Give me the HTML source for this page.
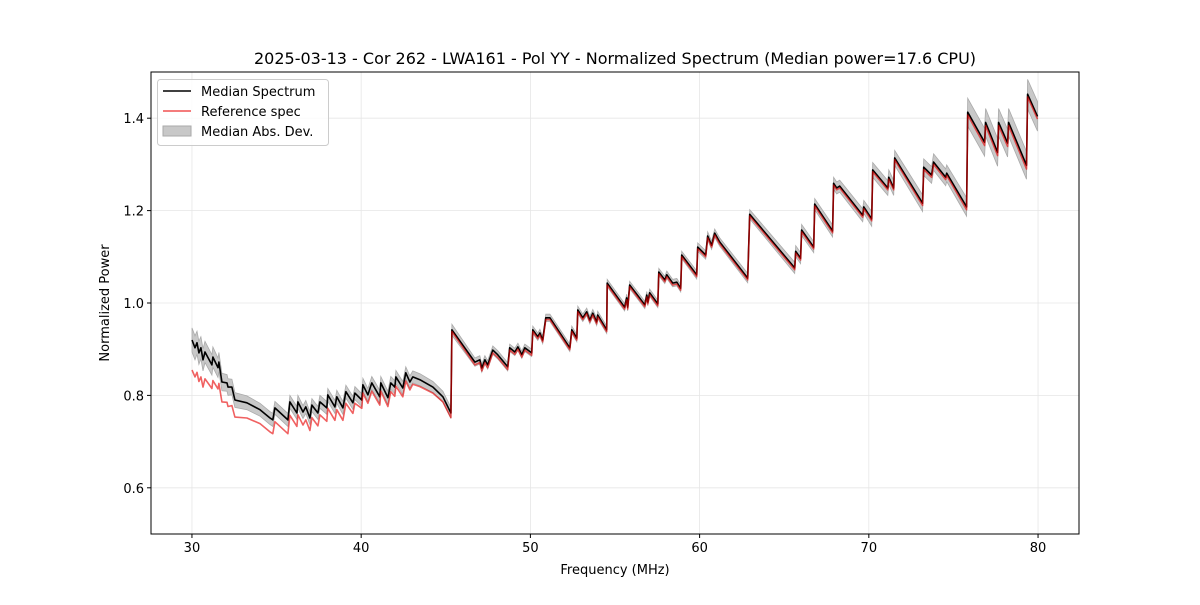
<!DOCTYPE html>
<html><head><meta charset="utf-8"><style>
body{margin:0;background:#fff;}
svg text{font-family:"DejaVu Sans","Liberation Sans",sans-serif;fill:#000;}
</style></head><body>
<svg id="chart" width="1200" height="600" xmlns="http://www.w3.org/2000/svg">
<rect width="1200" height="600" fill="#fff"/>
<text x="615" y="64" text-anchor="middle" font-size="16">2025-03-13 - Cor 262 - LWA161 - Pol YY - Normalized Spectrum (Median power=17.6 CPU)</text>
<g id="grid"></g>
<g id="plot"></g>
<rect x="151" y="72" width="928" height="462" fill="none" stroke="#000" stroke-width="1"/>
<g id="ticks"></g>
<text x="615" y="574" text-anchor="middle" font-size="13">Frequency (MHz)</text>
<text transform="translate(109,303) rotate(-90)" text-anchor="middle" font-size="13">Normalized Power</text>
<g>
<rect x="157.5" y="79.5" width="171" height="66" rx="3" fill="#fff" fill-opacity="0.8" stroke="#ccc"/>
<g><line x1="163" y1="91" x2="191" y2="91" stroke="#000" stroke-width="1.5"/><text x="201" y="96" font-size="13">Median Spectrum</text></g>
<g><line x1="163" y1="111" x2="191" y2="111" stroke="#f05050" stroke-width="1.5"/><text x="201" y="116" font-size="13">Reference spec</text></g>
<g><rect x="163" y="126" width="28" height="10" fill="#c8c8c8" stroke="#aaa"/><text x="201" y="136" font-size="13">Median Abs. Dev.</text></g>
</g>
</svg>
<script>
const freq=[30.00,30.18,30.30,30.41,30.53,30.65,30.77,31.18,31.24,31.54,31.59,31.77,32.07,32.13,32.36,32.54,33.25,34.02,34.61,34.78,34.90,35.67,35.79,36.20,36.26,36.56,36.73,36.97,37.09,37.44,37.56,37.97,38.03,38.45,38.56,38.92,39.10,39.51,39.63,40.04,40.10,40.40,40.63,41.10,41.16,41.58,41.75,41.99,42.05,42.46,42.64,42.88,43.05,43.47,44.24,44.83,45.30,45.36,
46.72,47.01,47.13,47.31,47.48,47.78,48.07,48.66,48.78,49.08,49.26,49.49,49.67,50.08,50.14,50.44,50.56,50.73,50.91,51.15,52.33,52.45,52.74,52.80,53.10,53.33,53.51,53.69,53.92,53.98,54.51,54.54,55.57,55.69,55.75,55.87,56.76,56.88,56.94,57.05,57.53,57.59,57.94,58.06,58.41,58.65,58.88,58.94,59.83,59.89,60.36,60.48,60.71,60.89,61.19,62.84,62.96,65.62,65.68,65.97,66.03,66.74,66.80,67.86,67.92,68.10,68.28,69.64,69.70,70.17,70.23,71.12,71.18,71.47,71.53,73.18,73.24,73.71,73.83,74.54,74.60,75.78,75.84,76.84,76.90,77.61,77.67,78.20,78.26,79.32,79.38,79.97];
const median=[0.920,0.903,0.914,0.892,0.903,0.877,0.894,0.866,0.883,0.860,0.872,0.829,0.827,0.818,0.818,0.790,0.784,0.769,0.751,0.747,0.773,0.747,0.786,0.762,0.786,0.764,0.775,0.751,0.779,0.762,0.786,0.773,0.801,0.775,0.797,0.773,0.808,0.784,0.805,0.790,0.823,0.801,0.827,0.797,0.827,0.795,0.827,0.818,0.840,0.816,0.849,0.829,0.840,0.834,0.818,0.797,0.762,0.942,
0.872,0.877,0.859,0.877,0.866,0.898,0.888,0.862,0.903,0.894,0.905,0.888,0.903,0.892,0.942,0.927,0.935,0.920,0.968,0.968,0.903,0.942,0.924,0.985,0.968,0.981,0.963,0.978,0.959,0.974,0.942,1.043,0.991,1.011,0.991,1.039,0.996,1.017,1.002,1.022,0.998,1.067,1.050,1.061,1.043,1.045,1.032,1.104,1.061,1.121,1.104,1.145,1.125,1.151,1.132,1.054,1.192,1.076,1.112,1.097,1.158,1.121,1.214,1.156,1.259,1.249,1.253,1.190,1.208,1.182,1.288,1.249,1.272,1.249,1.314,1.216,1.294,1.277,1.305,1.272,1.281,1.208,1.413,1.348,1.391,1.326,1.391,1.346,1.391,1.298,1.452,1.404];
const refSpec=[0.855,0.840,0.850,0.830,0.840,0.818,0.836,0.815,0.832,0.814,0.826,0.786,0.785,0.776,0.778,0.753,0.751,0.739,0.721,0.717,0.743,0.717,0.757,0.733,0.758,0.736,0.747,0.724,0.752,0.734,0.758,0.744,0.772,0.746,0.769,0.746,0.783,0.761,0.783,0.772,0.805,0.783,0.809,0.779,0.809,0.776,0.808,0.798,0.820,0.797,0.831,0.812,0.824,0.819,0.805,0.786,0.752,0.938,
0.866,0.871,0.853,0.871,0.860,0.892,0.882,0.856,0.898,0.889,0.900,0.883,0.898,0.887,0.938,0.923,0.931,0.916,0.964,0.964,0.899,0.938,0.920,0.981,0.964,0.977,0.959,0.974,0.955,0.970,0.938,1.039,0.987,1.007,0.987,1.035,0.992,1.013,0.998,1.018,0.994,1.063,1.046,1.057,1.039,1.041,1.028,1.100,1.057,1.117,1.100,1.141,1.121,1.147,1.128,1.050,1.188,1.072,1.108,1.093,1.154,1.117,1.210,1.152,1.255,1.245,1.249,1.186,1.204,1.178,1.284,1.245,1.268,1.245,1.310,1.211,1.289,1.272,1.300,1.267,1.276,1.202,1.407,1.341,1.384,1.319,1.384,1.339,1.384,1.290,1.446,1.398];
const mad=[0.026,0.026,0.025,0.025,0.024,0.024,0.023,0.022,0.022,0.021,0.021,0.019,0.018,0.018,0.017,0.016,0.015,0.014,0.014,0.014,0.014,0.014,0.014,0.014,0.014,0.014,0.014,0.014,0.014,0.014,0.014,0.014,0.014,0.014,0.014,0.014,0.014,0.014,0.014,0.014,0.014,0.014,0.014,0.014,0.014,0.014,0.014,0.014,0.014,0.014,0.013,0.013,0.013,0.013,0.012,0.012,0.012,0.012,
0.009,0.009,0.009,0.009,0.009,0.009,0.009,0.009,0.008,0.008,0.008,0.008,0.008,0.008,0.008,0.008,0.008,0.008,0.008,0.008,0.008,0.008,0.008,0.008,0.008,0.008,0.008,0.008,0.008,0.008,0.008,0.008,0.008,0.008,0.008,0.008,0.008,0.008,0.008,0.008,0.008,0.008,0.008,0.008,0.008,0.008,0.008,0.008,0.009,0.009,0.009,0.009,0.009,0.009,0.009,0.010,0.010,0.012,0.012,0.012,0.012,0.012,0.012,0.013,0.013,0.013,0.013,0.014,0.014,0.016,0.016,0.016,0.016,0.016,0.016,0.018,0.018,0.018,0.018,0.018,0.018,0.020,0.030,0.030,0.030,0.030,0.030,0.030,0.030,0.030,0.032,0.032];
const xTicks=[30,40,50,60,70,80];
const yTicks=[0.6,0.8,1.0,1.2,1.4];
const yTickLabels=["0.6","0.8","1.0","1.2","1.4"];

const X0=151,X1=1079,Y0=534,Y1=72,XMIN=27.58,XMAX=82.42,YMIN=0.5,YMAX=1.5;
function sx(f){return X0+(f-XMIN)/(XMAX-XMIN)*(X1-X0);}
function sy(v){return Y0-(v-YMIN)/(YMAX-YMIN)*(Y0-Y1);}
const NS="http://www.w3.org/2000/svg";
function mk(tag,attrs,parent){const e=document.createElementNS(NS,tag);for(const k in attrs)e.setAttribute(k,attrs[k]);parent.appendChild(e);return e;}
const grid=document.getElementById('grid'),plot=document.getElementById('plot'),ticks=document.getElementById('ticks');
xTicks.forEach(t=>{
  const g=mk('line',{x1:sx(t),x2:sx(t),y1:Y1,y2:Y0,stroke:'#e6e6e6','stroke-width':0.8},grid);
  
  
  const tk=mk('line',{x1:sx(t),x2:sx(t),y1:Y0,y2:Y0+4,stroke:'#000'},ticks);
  
  
  const tx=mk('text',{x:sx(t),y:Y0+18,'text-anchor':'middle','font-size':13},ticks);
  tx.textContent=String(t);
  
  
});
yTicks.forEach((t,i)=>{
  const g=mk('line',{x1:X0,x2:X1,y1:sy(t),y2:sy(t),stroke:'#e6e6e6','stroke-width':0.8},grid);
  
  
  const tk=mk('line',{x1:X0-4,x2:X0,y1:sy(t),y2:sy(t),stroke:'#000'},ticks);
  
  
  const tx=mk('text',{x:X0-7,y:sy(t)+5,'text-anchor':'end','font-size':13},ticks);
  tx.textContent=yTickLabels[i];
  
  
});
let up=[],dn=[];
freq.forEach((f,i)=>{up.push(sx(f).toFixed(1)+','+sy(median[i]+mad[i]).toFixed(1));dn.unshift(sx(f).toFixed(1)+','+sy(median[i]-mad[i]).toFixed(1));});
const band=mk('polygon',{points:up.concat(dn).join(' '),fill:'#c8c8c8',stroke:'#aaa','stroke-width':0.8},plot);


const mp=mk('polyline',{points:freq.map((f,i)=>sx(f).toFixed(1)+','+sy(median[i]).toFixed(1)).join(' '),fill:'none',stroke:'#000','stroke-width':1.6,'stroke-linejoin':'round'},plot);


const rp=mk('polyline',{points:freq.map((f,i)=>sx(f).toFixed(1)+','+sy(refSpec[i]).toFixed(1)).join(' '),fill:'none',stroke:'#e60000','stroke-opacity':0.62,'stroke-width':1.6,'stroke-linejoin':'round'},plot);


</script>
</body></html>
